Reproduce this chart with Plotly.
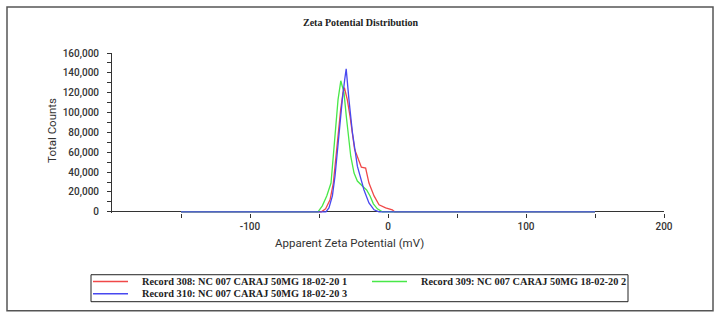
import plotly.graph_objects as go

# ---------------- data ----------------
series_names = [
    "Record 308: NC 007 CARAJ 50MG 18-02-20 1",
    "Record 309: NC 007 CARAJ 50MG 18-02-20 2",
    "Record 310: NC 007 CARAJ 50MG 18-02-20 3",
]
series_colors = ["#f04848", "#48e848", "#4848f0"]

x_red = [-150, -48.3, -45.2, -42.0, -39.6, -37.9, -36.0, -34.3, -32.6, -31.6, -29.5,
         -27.5, -24.2, -21.0, -19.3, -16.2, -13.8, -10.1, -6.5, -1.7, 3.1, 4.8, 150]
y_red = [0, 0, 3000, 12000, 29000, 53000, 80000, 103000, 120000, 125000, 113000,
         96000, 63000, 51000, 45000, 44000, 29000, 16000, 7000, 4000, 2000, 0, 0]

x_green = [-150, -50.7, -47.6, -44.4, -41.3, -39.1, -37.4, -36.2, -34.2, -31.9, -30.2,
           -28.7, -27.0, -24.6, -22.2, -18.6, -15.5, -13.0, -10.6, -7.7, -4.1, 150]
y_green = [0, 0, 6000, 16000, 29000, 63000, 96000, 113000, 132000, 120000, 96000,
           76000, 56000, 39000, 31000, 26000, 22000, 16000, 8000, 3000, 0, 0]

x_blue = [-150, -45.0, -42.8, -40.3, -38.4, -36.7, -34.8, -33.1, -31.4, -30.3, -28.3,
          -25.8, -22.2, -17.4, -13.8, -10.1, -6.5, 150]
y_blue = [0, 0, 4000, 16000, 36000, 63000, 90000, 113000, 133000, 144000, 113000,
          80000, 46000, 22000, 9000, 2000, 0, 0]

x_tickvals = [-150, -100, -50, 0, 50, 100, 150, 200]
x_ticktext = ["", "-100", "", "0", "", "100", "", "200"]
y_tickvals = [0, 20000, 40000, 60000, 80000, 100000, 120000, 140000, 160000]

chart_title = "Zeta Potential Distribution"
x_title = "Apparent Zeta Potential (mV)"
y_title = "Total Counts"

# ---------------- layout geometry (pixels) ----------------
W, H = 719, 320
PL, PR, PT, PB = 112, 664, 53, 213.2  # plot area edges in px
Y_LOW = -1200

def px2x(px):
    return (px - PL) / (PR - PL)

def py2y(py):
    return (PB - py) / (PB - PT)

fig = go.Figure()
for xs, ys, name, col in zip([x_red, x_green, x_blue], [y_red, y_green, y_blue],
                             series_names, series_colors):
    fig.add_trace(go.Scatter(x=xs, y=ys, mode="lines", name=name,
                             line=dict(color=col, width=1.3), showlegend=False,
                             hoverinfo="x+y+name"))

tick_font = dict(family="Roboto", size=10, color="#333333", weight=500)
serif = "Liberation Serif"

fig.update_layout(
    width=W, height=H,
    margin=dict(l=PL, r=W - PR, t=PT, b=H - PB),
    paper_bgcolor="white", plot_bgcolor="white",
    xaxis=dict(range=[-200, 200], tickvals=x_tickvals, ticktext=x_ticktext,
               showgrid=False, zeroline=False, showline=False,
               ticks="outside", ticklen=4, tickcolor="#333333", tickwidth=1,
               tickfont=tick_font, layer="below traces"),
    yaxis=dict(range=[Y_LOW, 160000], tickvals=y_tickvals, tickformat=",",
               showgrid=False, showline=True, linecolor="#333333", linewidth=1,
               zeroline=True, zerolinecolor="#333333", zerolinewidth=1,
               ticks="outside", ticklen=4, tickcolor="#333333",
               minor=dict(dtick=10000, tick0=0, ticks="outside", ticklen=4,
                          tickcolor="#333333"),
               tickfont=tick_font, ticklabelstandoff=6, layer="below traces"),
)

annotations = [
    dict(text="<b>" + chart_title + "</b>", x=px2x(360), y=py2y(22),
         font=dict(family=serif, size=10, color="#222222")),
    dict(text=x_title, x=px2x(349), y=py2y(243),
         font=dict(family="Roboto", size=11.5, color="#333333")),
    dict(text=y_title, x=px2x(52), y=py2y(131), textangle=-90,
         font=dict(family="Roboto", size=11.5, color="#333333")),
]
for a in annotations:
    a.update(xref="paper", yref="paper", showarrow=False,
             xanchor="center", yanchor="middle")

shapes = [
    # outer frame
    dict(type="rect", xref="paper", yref="paper",
         x0=px2x(7), x1=px2x(713), y0=py2y(311), y1=py2y(7),
         line=dict(color="#555555", width=1.5)),
    # legend box
    dict(type="rect", xref="paper", yref="paper",
         x0=px2x(91), x1=px2x(628), y0=py2y(302), y1=py2y(275),
         line=dict(color="#222222", width=1)),
]

legend_pos = [(93, 281.7), (372, 281.7), (93, 294)]
for (lx, ly), name, col in zip(legend_pos, series_names, series_colors):
    shapes.append(dict(type="line", xref="paper", yref="paper",
                       x0=px2x(lx), x1=px2x(lx + 35), y0=py2y(ly), y1=py2y(ly),
                       line=dict(color=col, width=1.5)))
    annotations.append(dict(text="<b>" + name + "</b>", xref="paper", yref="paper",
                            x=px2x(lx + 47), y=py2y(ly), xanchor="left",
                            yanchor="middle", showarrow=False,
                            font=dict(family=serif, size=10.3, color="#222222")))

fig.update_layout(annotations=annotations, shapes=shapes)

fig.write_html("out.html", config={"displayModeBar": False})

# remove the default page margin so the figure sits at the window's top-left
with open("out.html", encoding="utf-8") as f:
    html = f.read()
html = html.replace("<head>", "<head><style>html,body{margin:0;padding:0;overflow:hidden;}</style>", 1)
with open("out.html", "w", encoding="utf-8") as f:
    f.write(html)
